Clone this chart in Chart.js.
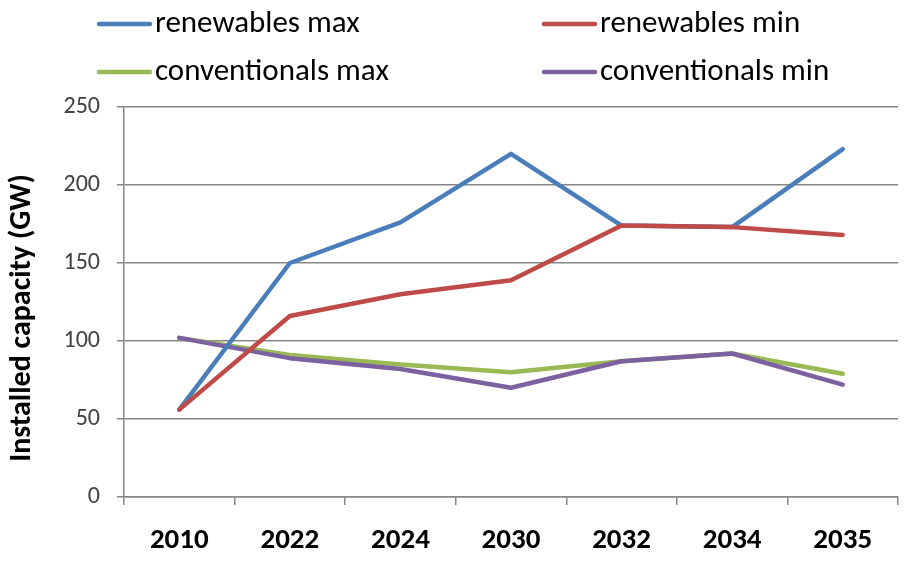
<!DOCTYPE html>
<html>
<head>
<meta charset="utf-8">
<script src="https://cdn.jsdelivr.net/npm/chart.js@4"></script>
<style>
  html, body { margin: 0; padding: 0; background: #fff; }
  #wrap { width: 904px; height: 562px; }
</style>
</head>
<body>
<div id="wrap"><canvas id="capacityChart" width="904" height="562"></canvas></div>
<script>
// chart data
const years = ["2010", "2022", "2024", "2030", "2032", "2034", "2035"];
const renewablesMax = [56, 150, 176, 220, 174, 173, 223];
const renewablesMin = [56, 116, 130, 139, 174, 173, 168];
const conventionalsMax = [102, 91, 85, 80, 87, 92, 79];
const conventionalsMin = [102, 89, 82, 70, 87, 92, 72];
const yTicks = [0, 50, 100, 150, 200, 250];

const FONT = "Carlito, Lato, sans-serif";

// legend in two columns + rotated axis title
const legendAndTitle = {
  id: "legendAndTitle",
  afterDraw(chart) {
    const ctx = chart.ctx;
    const cols = [97, 542];
    const rows = [24, 72];
    ctx.save();
    chart.data.datasets.forEach((ds, n) => {
      const x = cols[n % 2];
      const y = rows[Math.floor(n / 2)];
      ctx.strokeStyle = ds.borderColor;
      ctx.lineWidth = 4.5;
      ctx.lineCap = "round";
      ctx.beginPath();
      ctx.moveTo(x + 2, y);
      ctx.lineTo(x + 53, y);
      ctx.stroke();
      ctx.fillStyle = "#000";
      ctx.font = "31px " + FONT;
      ctx.textBaseline = "middle";
      ctx.textAlign = "left";
      ctx.fillText(ds.label, x + 58, y);
    });

    ctx.translate(22, 318);
    ctx.rotate(-Math.PI / 2);
    ctx.font = "bold 30px " + FONT;
    ctx.textAlign = "center";
    ctx.textBaseline = "middle";
    ctx.fillStyle = "#000";
    ctx.fillText("Installed capacity (GW)", 0, 0);
    ctx.restore();
  }
};

function initCapacityChart() {
  const ctx = document.getElementById("capacityChart");
  new Chart(ctx, {
    type: "line",
    data: {
      labels: years,
      datasets: [
        { label: "renewables max", data: renewablesMax, borderColor: "#4a7ebb", order: 2 },
        { label: "renewables min", data: renewablesMin, borderColor: "#be4b48", order: 1 },
        { label: "conventionals max", data: conventionalsMax, borderColor: "#98b954", order: 4 },
        { label: "conventionals min", data: conventionalsMin, borderColor: "#7d60a0", order: 3 },
      ],
    },
    options: {
      responsive: false,
      animation: false,
      layout: { padding: { top: 107, right: 6, left: 0, bottom: 0 } },
      elements: {
        line: { borderWidth: 4.5, tension: 0, borderCapStyle: "round", borderJoinStyle: "round" },
        point: { radius: 0 },
      },
      plugins: {
        legend: { display: false },
        tooltip: { enabled: false },
      },
      scales: {
        x: {
          offset: true,
          grid: {
            offset: true,
            drawOnChartArea: false,
            drawTicks: true,
            tickLength: 8,
            color: "#868686",
            lineWidth: 1.5,
          },
          border: { color: "#868686", width: 1.5 },
          ticks: {
            color: "#000",
            padding: 18,
            font: { family: FONT, size: 29, weight: "bold" },
            maxRotation: 0,
          },
          afterFit(scale) { scale.height = 65; },
        },
        y: {
          min: 0,
          max: 250,
          afterBuildTicks(scale) { scale.ticks = yTicks.map(v => ({ value: v })); },
          grid: {
            color: "#868686",
            lineWidth: 1.5,
            tickLength: 7,
          },
          border: { color: "#868686", width: 1.5 },
          ticks: {
            color: "#404040",
            padding: 17,
            font: { family: FONT, size: 24 },
          },
          afterFit(scale) { scale.width = 124; },
        },
      },
    },
    plugins: [legendAndTitle],
  });
}

document.addEventListener("DOMContentLoaded", function () {
  initCapacityChart();
});
</script>
</body>
</html>
